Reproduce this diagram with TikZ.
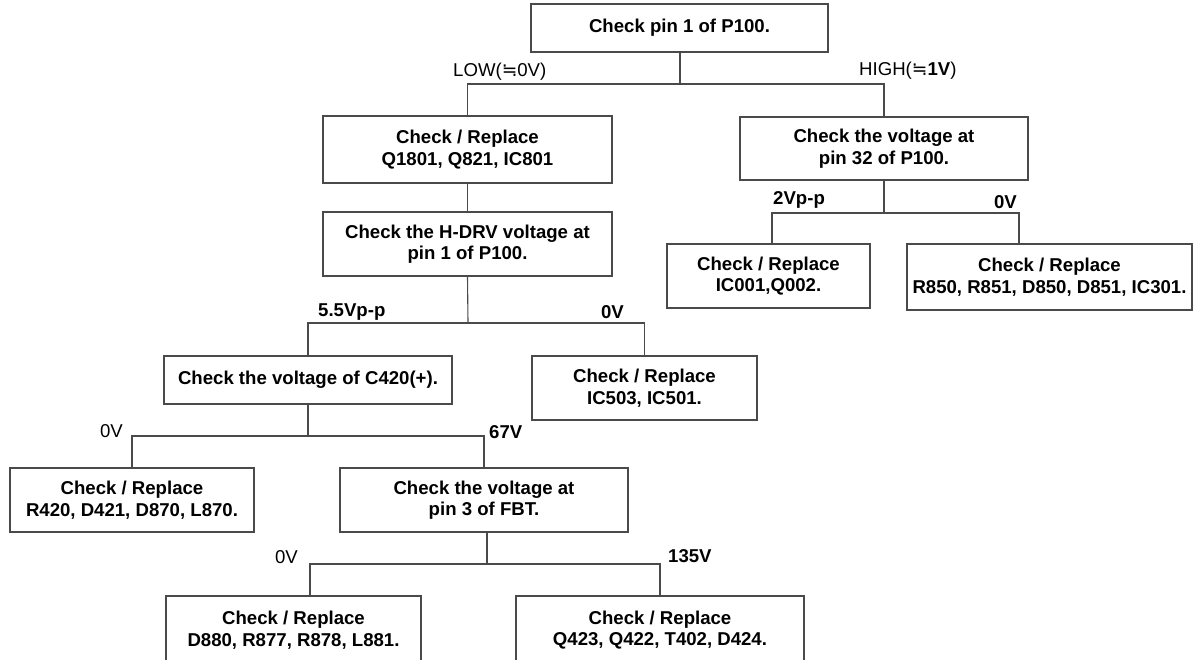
\documentclass[tikz,border=0pt]{standalone}
\usepackage{fontspec}
\setmainfont{Liberation Sans}
\newfontfamily\dvfont{DejaVu Sans}
\definecolor{linec}{HTML}{4A4A4A}
\tikzset{
  box/.style={draw=linec, line width=1.1pt, inner sep=0pt, align=center,
    font=\fontsize{18.6}{21.5}\selectfont\bfseries},
  conn/.style={draw=linec, line width=1.1pt},
  lblb/.style={inner sep=0pt, font=\fontsize{18.6}{21.5}\selectfont\bfseries},
  lblr/.style={inner sep=0pt, font=\fontsize{18.6}{21.5}\selectfont}
}
\begin{document}
\begin{tikzpicture}[x=1pt,y=-1pt]
\path[use as bounding box] (0,0) rectangle (1196,660);
\clip (0,0) rectangle (1196,660);
\fill[white] (0,0) rectangle (1196,660);

% boxes
\node[box, minimum width=297pt, minimum height=48pt] (top) at (679.5,28) {Check pin 1 of P100.};
\node[box, minimum width=289pt, minimum height=67pt] (q1801) at (467.5,149.5) {Check / Replace\\ Q1801, Q821, IC801};
\node[box, minimum width=289pt, minimum height=64pt] (hdrv) at (467.5,244) {Check the H-DRV voltage at\\ pin 1 of P100.};
\node[box, minimum width=288pt, minimum height=63pt] (pin32) at (884,148.5) {Check the voltage at\\ pin 32 of P100.};
\node[box, minimum width=203pt, minimum height=64pt] (ic001) at (768.5,276) {Check / Replace\\ IC001,Q002.};
\node[box, minimum width=285pt, minimum height=66pt] (r850) at (1049.5,277) {Check / Replace\\ R850, R851, D850, D851, IC301.};
\node[box, minimum width=288pt, minimum height=48pt] (c420) at (308,380) {Check the voltage of C420(+).};
\node[box, minimum width=225pt, minimum height=64pt] (ic503) at (644.5,388) {Check / Replace\\ IC503, IC501.};
\node[box, minimum width=244pt, minimum height=64pt] (r420) at (132,500) {Check / Replace\\ R420, D421, D870, L870.};
\node[box, minimum width=288pt, minimum height=64pt] (fbt) at (484,500) {Check the voltage at\\ pin 3 of FBT.};
\node[box, minimum width=255pt, minimum height=68pt] (d880) at (293.5,630) {Check / Replace\\ D880, R877, R878, L881.};
\node[box, minimum width=288pt, minimum height=68pt] (q423) at (660,630) {Check / Replace\\ Q423, Q422, T402, D424.};

% junctions
\coordinate (j1) at (680,84);
\coordinate (j2) at (468,323);
\coordinate (j3) at (884,213);
\coordinate (j4) at (308,436);
\coordinate (j5) at (487,564);

% connectors
\draw[conn] (top.south -| j1) -- (j1);
\draw[conn] (q1801.north) |- (j1) -| (pin32.north);
\draw[conn] (q1801.south) -- (hdrv.north);
\draw[conn] (hdrv.south) -- (j2);
\draw[conn] (c420.north) |- (j2) -| (ic503.north);
\draw[conn] (pin32.south) -- (j3);
\draw[conn] ([xshift=3.5pt]ic001.north) |- (j3) -| ([xshift=-30.5pt]r850.north);
\draw[conn] (c420.south) -- (j4);
\draw[conn] (r420.north) |- (j4) -| (fbt.north);
\draw[conn] (fbt.south -| j5) -- (j5);
\draw[conn] ([xshift=16.5pt]d880.north) |- (j5) -| (q423.north);

% labels
\node[lblr, anchor=west] (llow) at (453,72) {LOW({\dvfont ≒}0V)};
\node[lblr, anchor=west] (lhigh) at (859,71) {HIGH({\dvfont ≒}\textbf{1V})};
\node[lblb, anchor=west] (l2v) at (773,200) {2Vp-p};
\node[lblb, anchor=east] (l0va) at (1017,202) {0V};
\node[lblb, anchor=west] (l55) at (318,312) {5.5Vp-p};
\node[lblb, anchor=east] (l0vb) at (624,312) {0V};
\node[lblr, anchor=east] (l0vc) at (123,431) {0V};
\node[lblb, anchor=west] (l67) at (489,432) {67V};
\node[lblr, anchor=east] (l0vd) at (298,557) {0V};
\node[lblb, anchor=west] (l135) at (668,556) {135V};
\end{tikzpicture}
\end{document}
